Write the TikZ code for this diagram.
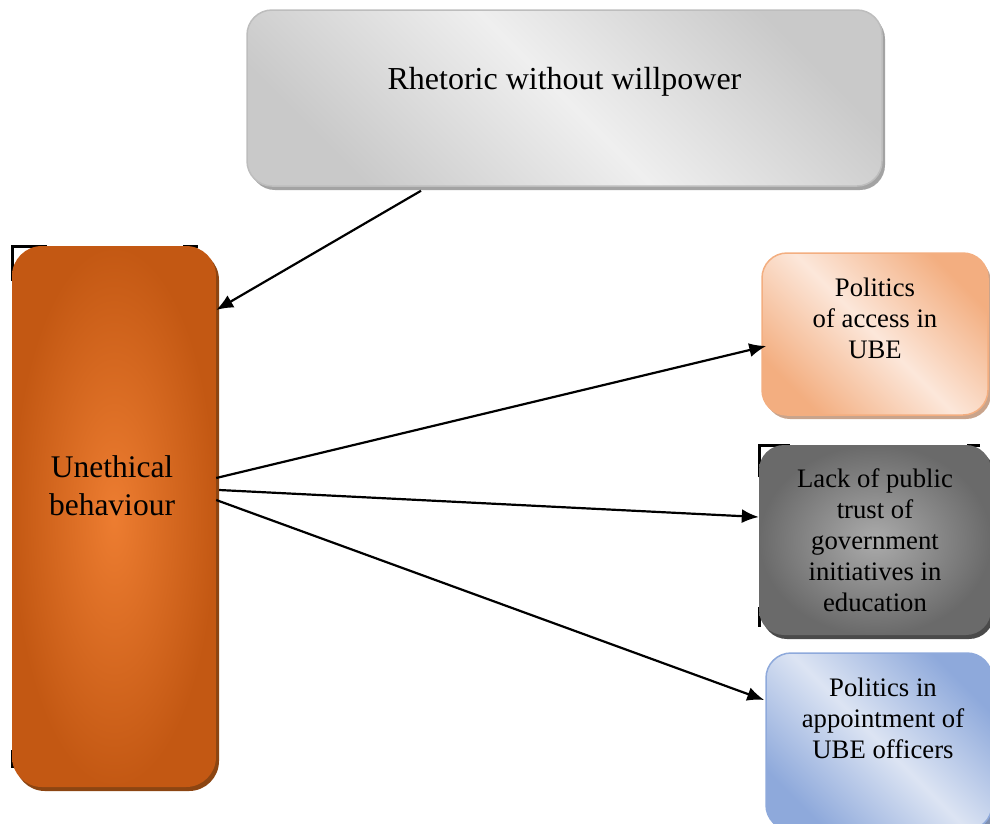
\documentclass[tikz,border=0pt]{standalone}
\usepackage{fontspec}
\setmainfont{Liberation Serif}
\usetikzlibrary{arrows.meta,shadows}

\definecolor{topdark}{HTML}{C9C9C9}
\definecolor{toplight}{HTML}{EFEFEF}
\definecolor{topedge}{HTML}{BDBDBD}
\definecolor{topshade}{HTML}{A3A3A3}
\definecolor{orangeL}{HTML}{ED7D31}
\definecolor{orangeD}{HTML}{C35813}
\definecolor{orangeS}{HTML}{8C4512}
\definecolor{peachD}{HTML}{F3AE80}
\definecolor{peachL}{HTML}{FCE7DA}
\definecolor{peachS}{HTML}{C9A48C}
\definecolor{greyL}{HTML}{ABABAB}
\definecolor{greyD}{HTML}{6A6A6A}
\definecolor{greyS}{HTML}{4A4A4A}
\definecolor{blueD}{HTML}{8EA9DB}
\definecolor{blueL}{HTML}{DCE4F3}
\definecolor{blueS}{HTML}{7F8FAF}

\begin{document}
\begin{tikzpicture}[x=1pt,y=-1pt,
  box/.style={rounded corners=25pt, inner sep=0pt},
  shadowed/.style={drop shadow={shadow xshift=3pt,shadow yshift=-4pt,fill=#1,opacity=1}},
  conn/.style={-{Latex[length=17pt,width=14pt]}, line width=2.2pt},
  txt/.style={align=center, inner sep=0pt, font=\fontsize{26.7}{31}\selectfont},
  corner/.style={line width=3pt}
]
\clip (0,0) rectangle (990,823);

% dark corner marks showing behind the orange and grey boxes
\draw[corner] (12,281) -- (12,246) -- (47,246);
\draw[corner] (183,246) -- (198,246);
\draw[corner] (12,750) -- (12,768);
\draw[corner] (759,477) -- (759,445) -- (790,445);
\draw[corner] (967,445) -- (980,445);
\draw[corner] (759,607) -- (759,627);

% top box
\node[box, minimum width=635pt, minimum height=176pt, draw=topedge, line width=1.5pt,
      top color=topdark, bottom color=topdark, middle color=toplight, shading angle=-45,
      shadowed=topshade] (rhet) at (564.5,98) {};
\node[txt, font=\fontsize{32}{38}\selectfont] (rhetT) at ([yshift=16pt]rhet.center) {Rhetoric without willpower};

% central box
\node[box, rounded corners=30pt, minimum width=204pt, minimum height=541pt,
      inner color=orangeL, outer color=orangeD, shadowed=orangeS] (ub) at (114,516.5) {};
\node[txt, font=\fontsize{31.5}{38}\selectfont] (ubT) at ([yshift=30.5pt,xshift=-2pt]ub.center) {Unethical\\behaviour};

% effect boxes
\node[box, minimum width=226pt, minimum height=162pt, draw=peachD, line width=1.5pt,
      top color=peachD, bottom color=peachD, middle color=peachL, shading angle=-45,
      shadowed=peachS] (acc) at (875,334) {};
\node[txt] (accT) at ([yshift=16pt]acc.center) {Politics\\of access in\\UBE};

\node[box, minimum width=232pt, minimum height=190pt,
      inner color=greyL, outer color=greyD, shadowed=greyS] (trust) at (875,540) {};
\node[txt] (trustT) at (trust.center) {Lack of public\\trust of\\government\\initiatives in\\education};

\node[box, minimum width=226pt, minimum height=177pt, draw=blueD, line width=1.5pt,
      top color=blueD, bottom color=blueD, middle color=blueL, shading angle=-45,
      shadowed=blueS] (appt) at (879,741.5) {};
\node[txt] (apptT) at ([yshift=23.5pt,xshift=4pt]appt.center) {Politics in\\appointment of\\UBE officers};

% connectors
\draw[conn] ([xshift=-143.5pt,yshift=-4pt]rhet.south) -- ([yshift=206.5pt]ub.east);
\draw[conn] ([yshift=38.5pt]ub.east) -- ([xshift=5pt,yshift=-12pt]acc.west);
\draw[conn] ([xshift=3pt,yshift=26.5pt]ub.east) -- ([yshift=23pt]trust.west);
\draw[conn] ([yshift=16.5pt]ub.east) -- ([xshift=-1pt,yshift=41.5pt]appt.west);
\end{tikzpicture}
\end{document}
